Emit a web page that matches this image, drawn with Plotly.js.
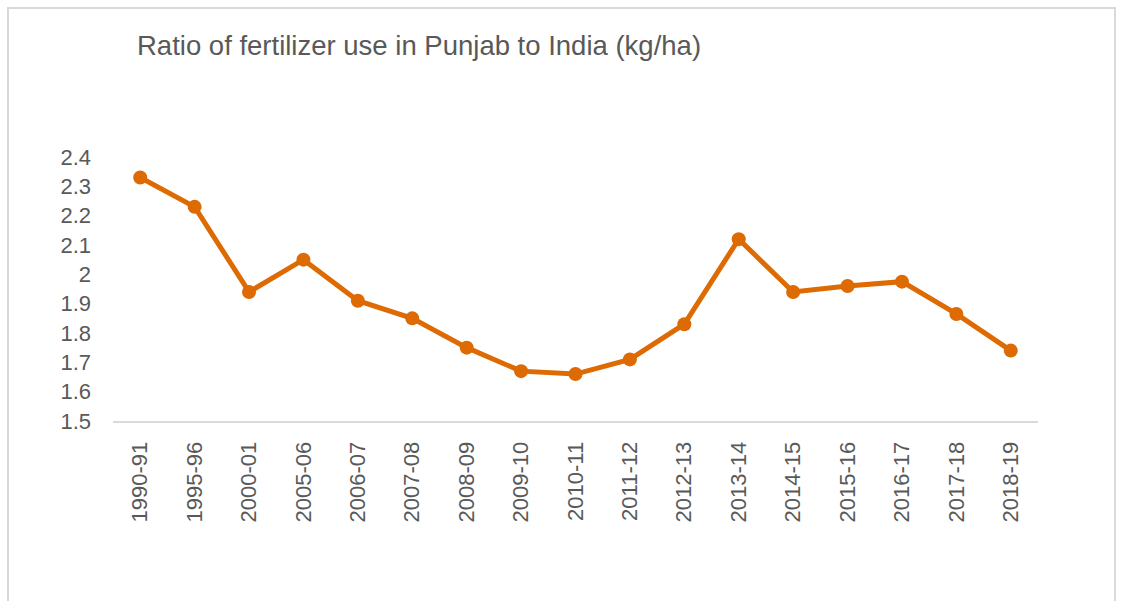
<!DOCTYPE html>
<html>
<head>
<meta charset="utf-8">
<script src="https://cdn.plot.ly/plotly-3.0.1.min.js"></script>
<style>
  html, body { margin: 0; padding: 0; background: #fff; }
  #wrap { position: relative; width: 1123px; height: 601px; }
  #chart { width: 1123px; height: 601px; }
  #frame { position: absolute; left: 7px; top: 7px; width: 1109px; height: 600px;
           border: 2px solid #d9d9d9; pointer-events: none; box-sizing: border-box; }
</style>
</head>
<body>
<div id="wrap">
  <div id="chart"></div>
  <div id="frame"></div>
</div>
<script>
const years = ["1990-91","1995-96","2000-01","2005-06","2006-07","2007-08","2008-09","2009-10","2010-11","2011-12","2012-13","2013-14","2014-15","2015-16","2016-17","2017-18","2018-19"];
const ratio = [2.33, 2.23, 1.94, 2.05, 1.91, 1.85, 1.75, 1.67, 1.66, 1.71, 1.83, 2.12, 1.94, 1.96, 1.975, 1.865, 1.74];
const yTicks = [1.5, 1.6, 1.7, 1.8, 1.9, 2, 2.1, 2.2, 2.3, 2.4];
const yTickText = ["1.5", "1.6", "1.7", "1.8", "1.9", "2", "2.1", "2.2", "2.3", "2.4"];
const chartTitle = "Ratio of fertilizer use in Punjab to India (kg/ha)";

const orange = "#dd6a02";
const grey = "#595959";

const trace = {
  x: years,
  y: ratio,
  type: "scatter",
  mode: "lines+markers",
  line: { color: orange, width: 5 },
  marker: { color: orange, size: 14 },
  hoverinfo: "x+y"
};

const layout = {
  width: 1123,
  height: 601,
  paper_bgcolor: "#ffffff",
  plot_bgcolor: "#ffffff",
  showlegend: false,
  margin: { l: 113, r: 85, t: 157, b: 180 },
  font: { family: "Liberation Sans, Arial, sans-serif", color: grey, size: 22 },
  title: {
    text: chartTitle,
    font: { family: "Liberation Sans, Arial, sans-serif", size: 27.5, color: grey },
    x: 137 / 1123, xanchor: "left", xref: "container",
    y: 1 - 45 / 601, yanchor: "middle", yref: "container"
  },
  xaxis: {
    type: "category",
    range: [-0.5, years.length - 0.5],
    showgrid: false,
    zeroline: false,
    showline: true,
    linecolor: "#d9d9d9",
    linewidth: 2,
    ticks: "outside",
    ticklen: 10,
    tickcolor: "rgba(0,0,0,0)",
    tickangle: -90,
    tickfont: { size: 22, color: grey },
    fixedrange: true
  },
  yaxis: {
    range: [1.5, 2.4],
    tickvals: yTicks,
    ticktext: yTickText,
    showgrid: false,
    zeroline: false,
    showline: false,
    ticks: "",
    ticklabelstandoff: 21,
    tickfont: { size: 22, color: grey },
    fixedrange: true
  }
};

Plotly.newPlot("chart", [trace], layout, { displayModeBar: false, staticPlot: true });
</script>
</body>
</html>
